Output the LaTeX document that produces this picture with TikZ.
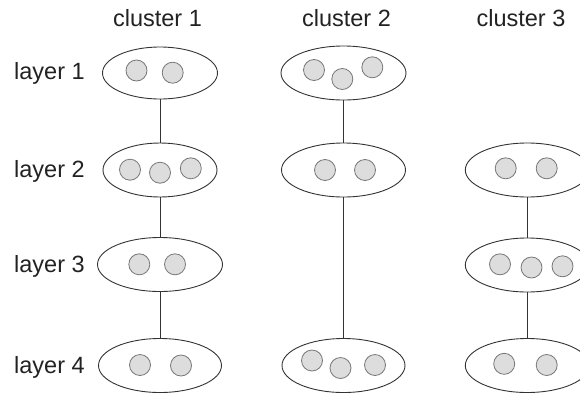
\documentclass[tikz,border=0pt]{standalone}
\usepackage{fontspec}
\setmainfont{Liberation Sans}
\usetikzlibrary{shapes.geometric}
\definecolor{txt}{HTML}{222222}
\definecolor{edge}{HTML}{333333}
\definecolor{dotfill}{HTML}{DDDDDD}
\definecolor{dotline}{HTML}{777777}
\begin{document}
\begin{tikzpicture}[x=1pt,y=-1pt,
  grp/.style={ellipse,draw=edge,line width=0.9pt,inner sep=0pt,minimum height=54pt},
  dot/.style={circle,draw=dotline,fill=dotfill,line width=0.8pt,inner sep=0pt,minimum size=21pt},
  lbl/.style={text=txt,font=\fontsize{23.5}{28}\selectfont,inner sep=0pt},
  link/.style={draw=edge,line width=0.8pt}]
\useasboundingbox (0,0) rectangle (580,394);
\clip (0,0) rectangle (580,394);
% titles
\node[lbl,anchor=base] (t1) at (157.5,26) {cluster 1};
\node[lbl,anchor=base] (t2) at (346.5,26) {cluster 2};
\node[lbl,anchor=base] (t3) at (521,26) {cluster 3};
% layer labels
\node[lbl,anchor=base west] (l1) at (14,79.5) {layer 1};
\node[lbl,anchor=base west] (l2) at (14,177) {layer 2};
\node[lbl,anchor=base west] (l3) at (14,272) {layer 3};
\node[lbl,anchor=base west] (l4) at (14,373) {layer 4};
% cluster 1
\node[grp,minimum width=115pt,minimum height=52pt] (e11) at (160,73) {};
\node[grp,minimum width=114pt] (e12) at (160,170) {};
\node[grp,minimum width=125pt] (e13) at (160,264.5) {};
\node[grp,minimum width=123pt] (e14) at (160,365.5) {};
\node[dot] (d11a) at (136.5,70.5) {};
\node[dot] (d11b) at (172.7,72.7) {};
\node[dot] (d12a) at (130,169.7) {};
\node[dot] (d12b) at (160,172.7) {};
\node[dot] (d12c) at (190.8,168.3) {};
\node[dot] (d13a) at (139.3,264.3) {};
\node[dot] (d13b) at (175,264.3) {};
\node[dot] (d14a) at (140,365) {};
\node[dot] (d14b) at (181,365.5) {};
% cluster 2
\node[grp,minimum width=125pt] (e21) at (343.5,73) {};
\node[grp,minimum width=124pt] (e22) at (343.5,170) {};
\node[grp,minimum width=123pt] (e24) at (343.5,365.5) {};
\node[dot] (d21a) at (314,70) {};
\node[dot] (d21b) at (342.3,79) {};
\node[dot] (d21c) at (372.3,67.3) {};
\node[dot] (d22a) at (325,170) {};
\node[dot] (d22b) at (365,170) {};
\node[dot] (d24a) at (312,360.5) {};
\node[dot] (d24b) at (340.5,368) {};
\node[dot] (d24c) at (375,365) {};
% cluster 3
\node[grp,minimum width=124pt] (e32) at (527.3,170) {};
\node[grp,minimum width=124pt] (e33) at (527.3,265) {};
\node[grp,minimum width=124pt] (e34) at (527.3,365.5) {};
\node[dot] (d32a) at (505.7,168.3) {};
\node[dot] (d32b) at (546.7,168.3) {};
\node[dot] (d33a) at (500,264.3) {};
\node[dot] (d33b) at (531.5,267.5) {};
\node[dot] (d33c) at (562.5,266.3) {};
\node[dot] (d34a) at (504.2,363.8) {};
\node[dot] (d34b) at (546.7,365) {};
% connectors
\draw[link] (e11) -- (e12);
\draw[link] (e12) -- (e13);
\draw[link] (e13) -- (e14);
\draw[link] (e21) -- (e22);
\draw[link] (e22) -- (e24);
\draw[link] (e32) -- (e33);
\draw[link] (e33) -- (e34);
\end{tikzpicture}
\end{document}
